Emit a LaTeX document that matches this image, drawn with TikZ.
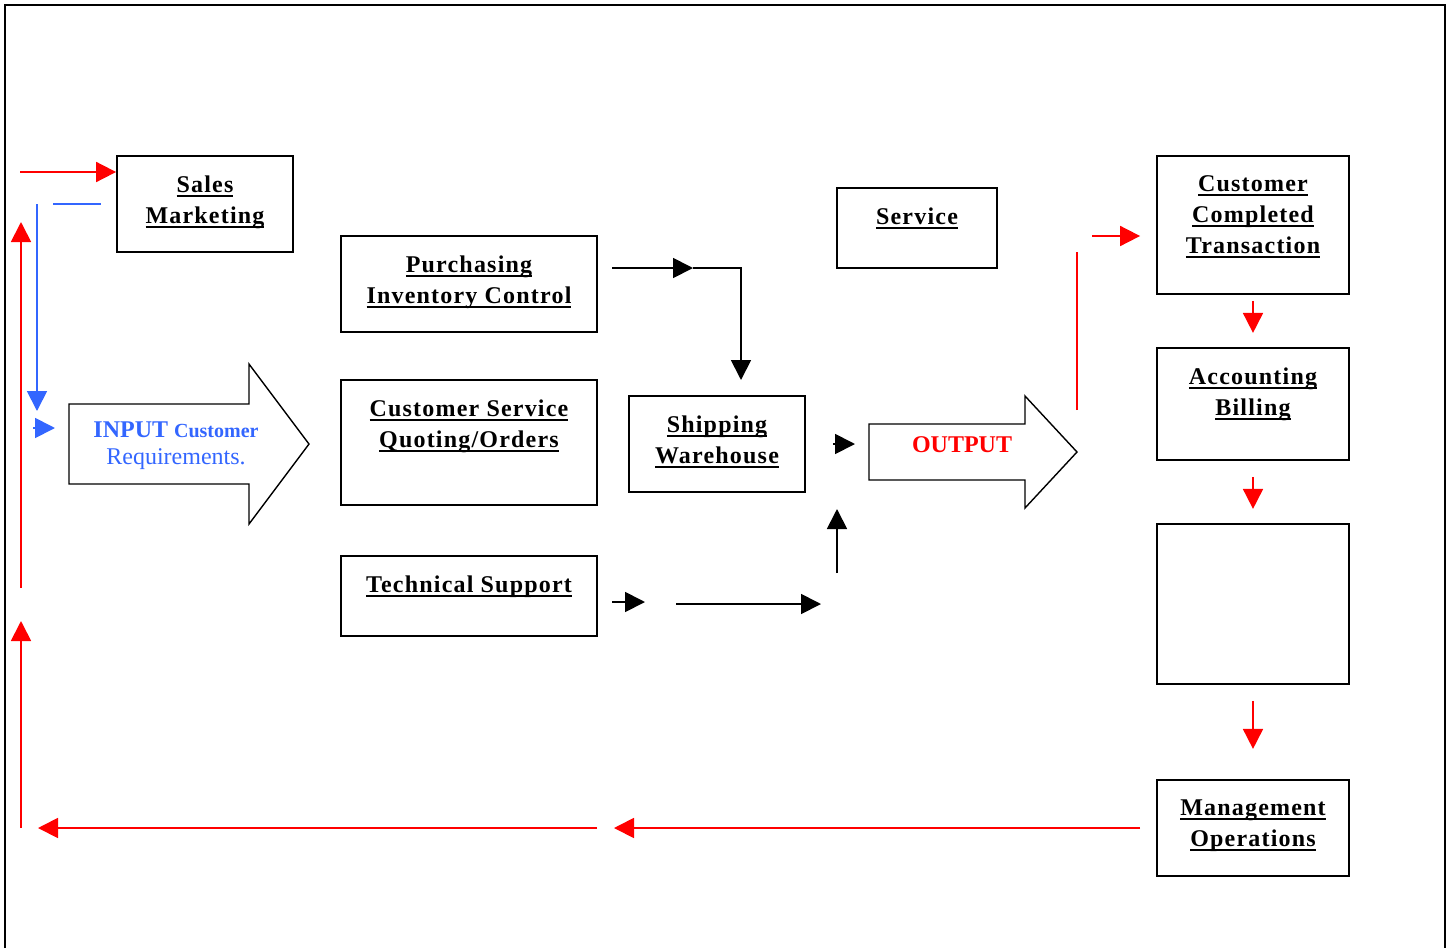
\documentclass[tikz,border=0pt]{standalone}
\usepackage{fontspec}
\setmainfont{Liberation Serif}
\usetikzlibrary{arrows.meta, positioning, calc}
\definecolor{flowred}{RGB}{255,0,0}
\definecolor{flowblue}{RGB}{51,102,255}
\newcommand{\ulw}[1]{\setbox0\hbox{#1}\rlap{\copy0}\rule[-2.3pt]{\wd0}{1.1pt}}

\begin{document}
\begin{tikzpicture}[
    x=0.5pt, y=-0.5pt,
    box/.style={draw, line width=0.9pt, inner sep=0pt},
    lbl/.style={font=\fontsize{12pt}{15.5pt}\selectfont\bfseries\addfontfeature{LetterSpace=5},
                align=center, inner sep=0pt},
    arr/.style={-{Triangle[length=10pt, width=10pt]}, line width=0.9pt},
    redarr/.style={arr, flowred},
    bluearr/.style={arr, flowblue},
    blkarr/.style={arr, black},
    blockarr/.style={draw, line width=0.7pt}
  ]
  \useasboundingbox (0,0) rectangle (1451,948);
  % page frame
  \draw[line width=1pt] (5,948) -- (5,5) -- (1445,5) -- (1445,948);

  % boxes
  \node[box, minimum width=88pt, minimum height=48pt] (sales) at (205,204) {};
  \node[box, minimum width=128pt, minimum height=48pt] (purch) at (469,284) {};
  \node[box, minimum width=128pt, minimum height=62.5pt] (cserv) at (469,442.5) {};
  \node[box, minimum width=128pt, minimum height=40pt] (tech) at (469,596) {};
  \node[box, minimum width=88pt, minimum height=48pt] (ship) at (717,444) {};
  \node[box, minimum width=80pt, minimum height=40pt] (service) at (917,228) {};
  \node[box, minimum width=96pt, minimum height=69pt] (custc) at (1253,225) {};
  \node[box, minimum width=96pt, minimum height=56pt] (acct) at (1253,404) {};
  \node[box, minimum width=96pt, minimum height=80pt] (blank) at (1253,604) {};
  \node[box, minimum width=96pt, minimum height=48pt] (mgmt) at (1253,828) {};

  % box texts
  \node[lbl, below=10pt of sales.north] (salestxt) {\ulw{Sales}\\\ulw{Marketing}};
  \node[lbl, below=10pt of purch.north] (purchtxt) {\ulw{Purchasing}\\\ulw{Inventory Control}};
  \node[lbl, below=10pt of cserv.north] (cservtxt) {\ulw{Customer Service}\\\ulw{Quoting/Orders}};
  \node[lbl, below=10pt of tech.north] (techtxt) {\ulw{Technical Support}};
  \node[lbl, below=10pt of ship.north] (shiptxt) {\ulw{Shipping}\\\ulw{Warehouse}};
  \node[lbl, below=10pt of service.north] (servicetxt) {\ulw{Service}};
  \node[lbl, below=10pt of custc.north] (custctxt) {\ulw{Customer}\\\ulw{Completed}\\\ulw{Transaction}};
  \node[lbl, below=10pt of acct.north] (accttxt) {\ulw{Accounting}\\\ulw{Billing}};
  \node[lbl, below=10pt of mgmt.north] (mgmttxt) {\ulw{Management}\\\ulw{Operations}};

  % block arrows
  \draw[blockarr] (69,404) -- (249,404) -- (249,364) -- (309,444) -- (249,524)
    -- (249,484) -- (69,484) -- cycle;
  \node[text=flowblue, align=center, inner sep=0pt,
        font=\fontsize{12pt}{13.5pt}\selectfont] (inputtxt) at (176,446)
    {\textbf{INPUT {\fontsize{10pt}{13.5pt}\selectfont Customer}}\\Requirements.};
  \draw[blockarr] (869,424) -- (1025,424) -- (1025,396) -- (1077,452) -- (1025,508)
    -- (1025,480) -- (869,480) -- cycle;
  \node[text=flowred, inner sep=0pt, font=\fontsize{12pt}{15.5pt}\selectfont\bfseries]
    (outtxt) at (962,445) {OUTPUT};

  % free ends
  \coordinate (salesin) at (20,172);
  \coordinate (bluea) at (53,204);
  \coordinate (blueb) at (101,204);
  \coordinate (bluetop) at (37,204);
  \coordinate (bluebot) at (37,411);
  \coordinate (bluesm) at (33,428);
  \coordinate (bluesmend) at (55,428);
  \coordinate (purchout) at (612,268);
  \coordinate (purchmid) at (693,268);
  \coordinate (shipin) at (741,380);
  \coordinate (outa) at (833,444);
  \coordinate (outb) at (855,444);
  \coordinate (techa) at (612,602);
  \coordinate (techb) at (645,602);
  \coordinate (techc) at (676,604);
  \coordinate (techd) at (821,604);
  \coordinate (upa) at (837,573);
  \coordinate (upb) at (837,509);
  \coordinate (leftlow) at (21,828);
  \coordinate (leftlowtip) at (21,621);
  \coordinate (leftmid) at (21,588);
  \coordinate (lefttip) at (21,222);
  \coordinate (backa) at (597,828);
  \coordinate (backtip) at (38,828);
  \coordinate (backb) at (614,828);
  \coordinate (risea) at (1077,410);
  \coordinate (riseb) at (1077,252);
  \coordinate (custin) at (1092,236);

  % black connectors
  \draw[blkarr] (purchout) -- (purchmid);
  \draw[blkarr] (purchmid) -| (shipin);
  \draw[blkarr] (outa) -- (outb);
  \draw[blkarr] (techa) -- (techb);
  \draw[blkarr] (techc) -- (techd);
  \draw[blkarr] (upa) -- (upb);

  % blue connectors
  \draw[flowblue, line width=0.9pt] (bluea) -- (blueb);
  \draw[bluearr] (bluetop) -- (bluebot);
  \draw[bluearr] (bluesm) -- (bluesmend);

  % red loop
  \draw[redarr] (salesin) -- (salesin -| sales.west);
  \draw[flowred, line width=0.9pt] (risea) -- (riseb);
  \draw[redarr] (custin) -- ([xshift=-8pt]custin -| custc.west);
  \draw[redarr] ([yshift=-3pt]custc.south) -- ([yshift=-19pt]custc.south);
  \draw[redarr] ([yshift=-8pt]acct.south) -- ([yshift=-24pt]acct.south);
  \draw[redarr] ([yshift=-8pt]blank.south) -- ([yshift=-32pt]blank.south);
  \draw[redarr] ([xshift=-8pt]mgmt.west) -- (backb);
  \draw[redarr] (backa) -- (backtip);
  \draw[redarr] (leftlow) -- (leftlowtip);
  \draw[redarr] (leftmid) -- (lefttip);
\end{tikzpicture}
\end{document}
